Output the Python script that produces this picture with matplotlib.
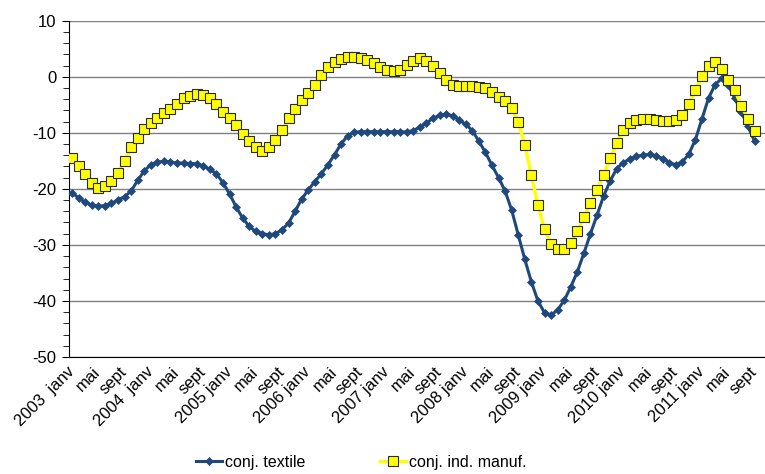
import numpy as np
import matplotlib
matplotlib.use("Agg")
import matplotlib.pyplot as plt
from matplotlib.ticker import MultipleLocator

plt.rcParams['font.family'] = ['Liberation Sans Narrow', 'Liberation Sans', 'DejaVu Sans']
plt.rcParams['axes.unicode_minus'] = False

# x labels every 4 months, jan 2003 -> sept 2011
years = [2003, 2004, 2005, 2006, 2007, 2008, 2009, 2010, 2011]
tick_labels = []
for y in years:
    sep = "  " if y in (2003, 2004) else " "
    tick_labels += [str(y) + sep + "janv", "mai", "sept"]

# conj. textile (monthly, 105 values)
textile = [-20.7, -21.6, -22.4, -22.9, -23.1, -23.0, -22.6, -22.0, -21.4, -20.4,
           -18.5, -16.8, -15.7, -15.2, -15.1, -15.2, -15.4,
           -15.4, -15.5, -15.5, -15.9, -16.5, -17.3, -18.9, -20.9, -23.2,
           -25.2, -26.7, -27.6, -28.0, -28.2, -28.0, -27.3, -26.1, -24.0,
           -21.8, -20.2, -18.7, -17.3, -15.7, -13.9, -12.0, -10.5, -9.9, -9.8,
           -9.8, -9.8, -9.8, -9.8, -9.8, -9.8,
           -9.85, -9.6, -9.0, -8.3, -7.4, -6.9, -6.65, -7.0, -7.7, -8.5,
           -9.6, -11.5, -13.5, -15.8, -18.0, -20.4, -23.8, -28.2, -32.6, -36.6,
           -40.0, -42.1, -42.5, -41.6, -39.9, -37.5, -34.8, -31.5, -28.0, -24.7,
           -21.3, -18.6, -16.4, -15.3, -14.7, -14.2, -14.0, -13.85, -14.1, -14.6,
           -15.3, -15.7, -15.2, -13.8, -11.2, -7.5, -3.8, -1.4, -0.3, -1.5,
           -3.8, -6.3, -8.8, -11.5]

# conj. ind. manuf.
manuf = [-14.5, -15.9, -17.3, -18.9, -19.8, -19.4, -18.6, -17.1, -15.0, -12.6,
         -11.0, -9.3, -8.3, -7.4, -6.5, -5.7, -4.8,
         -3.8, -3.4, -3.0, -3.2, -3.8, -4.9, -6.3, -7.4, -8.6,
         -10.2, -11.4, -12.6, -13.2, -12.6, -11.3, -9.5, -7.4,
         -5.7, -4.2, -2.9, -1.4, 0.4, 1.7, 2.7, 3.2, 3.5, 3.5,
         3.3, 3.0, 2.4, 1.7, 1.25, 1.1, 1.25, 2.1,
         2.9, 3.3, 2.9, 2.0, 0.65, -0.5, -1.4,
         -1.6, -1.7, -1.7, -1.8,
         -2.0, -2.8, -3.6, -4.4, -5.6, -8.1, -12.1, -17.6, -22.9, -27.2,
         -29.9, -30.7, -30.7, -29.7, -27.6, -25.1, -22.6, -20.2, -17.6, -14.5,
         -11.9, -9.5, -8.2, -7.8, -7.5, -7.5, -7.8, -7.9, -7.9, -7.8,
         -6.8, -4.8, -2.3, 0.06, 1.96, 2.55, 1.36, -0.5, -2.4, -5.2,
         -7.5, -9.7]

x = np.arange(len(textile))

fig = plt.figure(figsize=(7.65, 4.74), dpi=100)
ax = fig.add_axes([0.0902, 0.2468, 0.9098, 0.7095])

ax.plot(x, textile, color='#1F487C', lw=2.2, marker='D', ms=4.5,
        mfc='#1F487C', mec='#1F487C', mew=0.5, zorder=3, label='conj. textile')
ax.plot(x, manuf, color='#FFFF00', lw=2.4, marker='s', ms=7.5,
        mfc='#FFFF00', mec='#2b2b2b', mew=0.8, zorder=4, label='conj. ind. manuf.')

ax.set_xlim(-0.46, 105.6)
ax.set_ylim(-50, 10)
ax.yaxis.set_major_locator(MultipleLocator(10))
ax.yaxis.set_minor_locator(MultipleLocator(2))
ax.grid(axis='y', which='major', color='#808080', lw=1.0)
ax.set_axisbelow(True)

for s in ['top', 'right']:
    ax.spines[s].set_visible(False)
ax.spines['left'].set_color('black')
ax.spines['bottom'].set_color('black')

ax.set_xticks(np.arange(0, len(textile), 4))
ax.set_xticklabels(tick_labels, rotation=45, ha='right', va='center',
                   rotation_mode='anchor', fontsize=12)
ax.tick_params(axis='x', length=0, pad=9)
ax.tick_params(axis='y', which='major', length=5, labelsize=12, pad=4)
ax.tick_params(axis='y', which='minor', length=4)

fig.legend(loc='center', bbox_to_anchor=(0.4725, 0.025), ncol=2, frameon=False,
           fontsize=11.5, handlelength=1.6, handletextpad=0.2, columnspacing=4.7)

fig.savefig('out.png', dpi=100)
